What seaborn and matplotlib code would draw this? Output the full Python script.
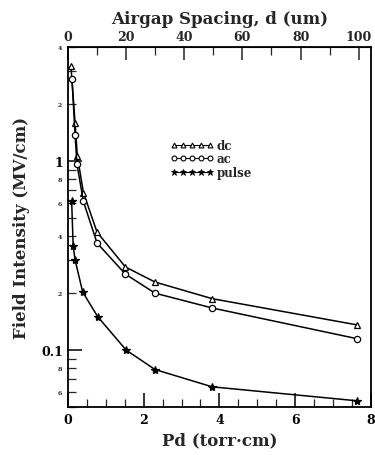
import numpy as np
import pandas as pd
import matplotlib
matplotlib.use("Agg")
import matplotlib.pyplot as plt
import seaborn as sns
from matplotlib.ticker import FixedLocator, FuncFormatter, LogLocator, MultipleLocator
from matplotlib.lines import Line2D

# =========================
# Datos
# =========================
pd_dc = [0.08, 0.19, 0.25, 0.41, 0.77, 1.52, 2.30, 3.81, 7.63]
e_dc = [3.18, 1.59, 1.06, 0.68, 0.42, 0.275, 0.229, 0.187, 0.136]

pd_ac = [0.11, 0.19, 0.24, 0.41, 0.77, 1.52, 2.30, 3.81, 7.63]
e_ac = [2.69, 1.37, 0.96, 0.61, 0.368, 0.252, 0.200, 0.167, 0.115]

pd_pulse = [0.10, 0.14, 0.19, 0.39, 0.79, 1.54, 2.30, 3.81, 7.63]
e_pulse = [0.61, 0.355, 0.30, 0.203, 0.150, 0.100, 0.079, 0.064, 0.054]

series_names = ["dc", "ac", "pulse"]
x_ticks = [0, 2, 4, 6, 8]
top_ticks = [0, 20, 40, 60, 80, 100]

df = pd.concat([
    pd.DataFrame({"pd": pd_dc, "campo": e_dc, "serie": "dc"}),
    pd.DataFrame({"pd": pd_ac, "campo": e_ac, "serie": "ac"}),
    pd.DataFrame({"pd": pd_pulse, "campo": e_pulse, "serie": "pulse"}),
])

sns.set_style("ticks")
plt.rcParams["font.family"] = ["DejaVu Serif"]
plt.rcParams["font.weight"] = "bold"

fig = plt.figure(figsize=(3.75, 4.56), dpi=100)
ax = fig.add_axes([0.181, 0.105, 0.808, 0.790])

estilos = {
    "dc": dict(marker="^", markerfacecolor="white", markersize=4.5),
    "ac": dict(marker="o", markerfacecolor="white", markersize=4.5),
    "pulse": dict(marker="*", markerfacecolor="black", markersize=6),
}
for s in series_names:
    sns.lineplot(data=df[df["serie"] == s], x="pd", y="campo", ax=ax, color="black",
                 linewidth=1.1, markeredgecolor="black", markeredgewidth=0.9,
                 legend=False, **estilos[s])

ax.set_yscale("log")
ax.set_xlim(0, 8)
ax.set_ylim(0.05, 4)

# ---- ejes ----
ax.xaxis.set_major_locator(FixedLocator(x_ticks))
ax.xaxis.set_minor_locator(MultipleLocator(0.5))
ax.yaxis.set_major_locator(FixedLocator([0.1, 1]))
ax.yaxis.set_major_formatter(FuncFormatter(lambda v, p: "0.1" if v < 0.5 else "1"))
ax.yaxis.set_minor_locator(LogLocator(base=10, subs=np.arange(2, 10)))


def etiqueta_menor(v, p):
    m = v / 10 ** np.floor(np.log10(v) + 1e-9)
    d = int(round(m))
    return str(d) if d in (2, 4, 6, 8) else ""


ax.yaxis.set_minor_formatter(FuncFormatter(etiqueta_menor))
ax.tick_params(axis="both", which="major", direction="in", length=10, width=1.1,
               labelsize=9, colors="black")
ax.tick_params(axis="both", which="minor", direction="in", length=6, width=0.9)
ax.tick_params(axis="y", which="minor", labelsize=4.5, pad=4)
ax.tick_params(axis="x", which="major", pad=4)
ax.tick_params(right=False, which="both")

for sp in ax.spines.values():
    sp.set_visible(True)
    sp.set_linewidth(1.3)
    sp.set_color("black")

sec = ax.secondary_xaxis("top", functions=(lambda x: x / 0.0768, lambda d: d * 0.0768))
sec.xaxis.set_major_locator(FixedLocator(top_ticks))
sec.xaxis.set_minor_locator(MultipleLocator(10))
sec.tick_params(which="major", direction="in", length=9, width=1.1, labelsize=9, pad=3)
sec.tick_params(which="minor", direction="in", length=6, width=0.9)
sec.set_xlabel("Airgap Spacing, d (um)", fontsize=12, fontweight="bold", labelpad=5)

ax.set_xlabel("Pd (torr\u00b7cm)", fontsize=12, fontweight="bold", labelpad=4)
ax.set_ylabel("Field Intensity (MV/cm)", fontsize=12, fontweight="bold", labelpad=8)

# ---- leyenda ----
handles = [
    Line2D([], [], color="black", lw=0.8, marker="^", mfc="white", mec="black", ms=3.5, mew=0.8),
    Line2D([], [], color="black", lw=0.8, marker="o", mfc="white", mec="black", ms=3.5, mew=0.8),
    Line2D([], [], color="black", lw=0.8, marker="*", mfc="black", mec="black", ms=4.5, mew=0.6),
]
ax.legend(handles, series_names, numpoints=5, frameon=False, loc="upper left",
          bbox_to_anchor=(0.34, 0.745), handlelength=3.6, handletextpad=0.3,
          labelspacing=0.05, prop={"family": "DejaVu Serif", "weight": "bold", "size": 8.5},
          borderpad=0, borderaxespad=0)

fig.savefig("out.png", dpi=100)
